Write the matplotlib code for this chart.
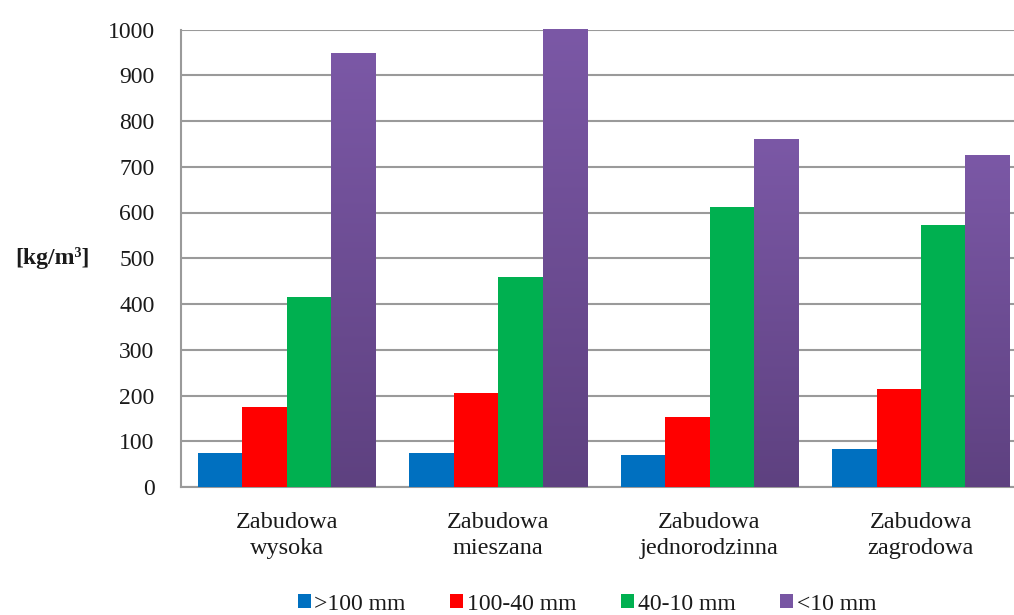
import matplotlib
matplotlib.use("Agg")
import matplotlib.pyplot as plt
import numpy as np
from matplotlib.colors import LinearSegmentedColormap

plt.rcParams["font.family"] = ["Liberation Serif", "DejaVu Serif"]

categories = ["Zabudowa\nwysoka", "Zabudowa\nmieszana", "Zabudowa\njednorodzinna", "Zabudowa\nzagrodowa"]
series_names = [">100 mm", "100-40 mm", "40-10 mm", "<10 mm"]
over_100 = [75, 75, 70, 84]
from_100_to_40 = [175, 205, 154, 214]
from_40_to_10 = [416, 460, 611, 572]
under_10 = [948, 1000, 760, 725]
y_ticks = [0, 100, 200, 300, 400, 500, 600, 700, 800, 900, 1000]

colors = ["#0070C0", "#FF0000", "#00B050", "#7856A3"]
purple_grad = LinearSegmentedColormap.from_list("purple_grad", ["#5E4180", "#7B58A6"])

fig = plt.figure(figsize=(10.14, 6.15), dpi=100)
ax = fig.add_axes([181 / 1014, 1 - 487 / 615, 833 / 1014, 457.5 / 615])

x = np.arange(len(categories))
width = 0.21
all_series = [over_100, from_100_to_40, from_40_to_10, under_10]
for i, values in enumerate(all_series):
    offset = (i - 1.5) * width
    bars = ax.bar(x + offset, values, width, color=colors[i], label=series_names[i], zorder=3,
                  clip_on=False)
    if i == 3:
        # gradient fill for the purple bars, lighter at the top
        grad = np.linspace(0, 1, 256).reshape(-1, 1)
        for bar in bars:
            bx, by = bar.get_x(), bar.get_y()
            bw, bh = bar.get_width(), bar.get_height()
            img = ax.imshow(grad, cmap=purple_grad, origin="lower", aspect="auto",
                            extent=(bx, bx + bw, by, by + bh), zorder=4, clip_on=False)
            img.set_clip_path(bar)

ax.set_xlim(-0.5, 3.44)
ax.set_ylim(0, 1000)
ax.set_yticks(y_ticks)
ax.set_xticks(x)
ax.set_xticklabels(categories, fontsize=17.5, color="#1a1a1a", linespacing=1.3)
ax.tick_params(axis="y", length=0, pad=19, labelsize=17, labelcolor="#1a1a1a")
ax.tick_params(axis="x", length=0, pad=18)
ax.grid(axis="y", color="#9a9a9a", linewidth=1.5, zorder=0)
ax.set_axisbelow(True)
for side in ["top", "right"]:
    ax.spines[side].set_visible(False)
for side in ["left", "bottom"]:
    ax.spines[side].set_color("#9a9a9a")
    ax.spines[side].set_linewidth(1.5)

fig.text(52 / 1014, 1 - 258 / 615, "[kg/m³]", fontsize=17, fontweight="bold",
         ha="center", va="center", color="#1a1a1a")

handles, labels = ax.get_legend_handles_labels()
leg = fig.legend(handles, labels, loc="center", bbox_to_anchor=(587 / 1014, 1 - 604 / 615), ncol=4,
                 frameon=False, fontsize=17, handlelength=0.55, handleheight=0.55,
                 handletextpad=0.15, columnspacing=1.9)
for t in leg.get_texts():
    t.set_color("#1a1a1a")

fig.savefig("out.png", dpi=100)
